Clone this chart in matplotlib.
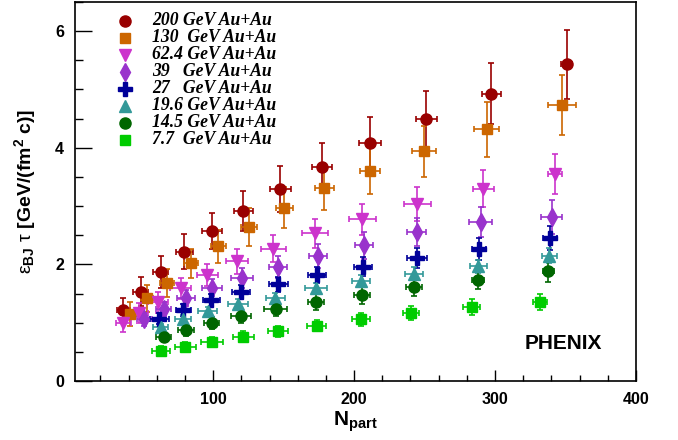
import matplotlib
matplotlib.use("Agg")
import matplotlib.pyplot as plt
from matplotlib.ticker import MultipleLocator

plt.rcParams["font.family"] = ["Liberation Sans", "DejaVu Sans"]
plt.rcParams["mathtext.fontset"] = "custom"
plt.rcParams["mathtext.rm"] = "Liberation Sans:bold"
plt.rcParams["mathtext.bf"] = "Liberation Sans:bold"
plt.rcParams["mathtext.it"] = "Liberation Sans:bold:italic"
plt.rcParams["mathtext.sf"] = "Liberation Sans"

# values
labels = ["200 GeV Au+Au", "130  GeV Au+Au", "62.4 GeV Au+Au", "39   GeV Au+Au",
          "27   GeV Au+Au", "19.6 GeV Au+Au", "14.5 GeV Au+Au", "7.7  GeV Au+Au"]

npart_200 = [36.4, 48.7, 62.9, 79.6, 99.1, 121.5, 147.7, 177.1, 211.3, 251.1, 297.2, 350.8]
e_200 = [1.22, 1.53, 1.87, 2.22, 2.57, 2.92, 3.29, 3.67, 4.09, 4.49, 4.93, 5.43]
err_200 = [0.20, 0.25, 0.27, 0.30, 0.31, 0.34, 0.39, 0.42, 0.44, 0.48, 0.53, 0.59]
xerr_200 = [4.7, 5.3, 5.3, 6.0, 6.9, 7.0, 7.6, 7.1, 7.6, 7.4, 6.7, 3.9]

npart_130 = [41.1, 53.0, 67.2, 84.3, 103.8, 125.5, 150.4, 178.9, 211.3, 249.6, 294.1, 347.7]
e_130 = [1.15, 1.42, 1.68, 2.02, 2.31, 2.64, 2.97, 3.31, 3.61, 3.94, 4.32, 4.73]
err_130 = [0.20, 0.23, 0.24, 0.25, 0.28, 0.32, 0.35, 0.37, 0.40, 0.44, 0.47, 0.51]
xerr_130 = [3.9, 4.5, 5.0, 5.0, 5.0, 5.6, 6.1, 6.5, 7.3, 8.2, 8.9, 10.0]

npart_62 = [36.4, 47.7, 61.2, 77.1, 96.0, 117.0, 142.8, 172.1, 205.9, 244.9, 291.7, 342.6]
e_62 = [1.00, 1.16, 1.35, 1.59, 1.82, 2.05, 2.27, 2.53, 2.77, 3.04, 3.30, 3.55]
err_62 = [0.16, 0.17, 0.18, 0.18, 0.19, 0.21, 0.23, 0.25, 0.27, 0.29, 0.32, 0.35]
xerr_62 = [5.0, 6.1, 7.1, 7.4, 7.6, 7.6, 8.9, 9.2, 9.7, 9.4, 7.3, 4.7]

npart_39 = [51.3, 64.8, 80.9, 99.5, 120.6, 146.3, 174.3, 206.9, 244.5, 289.9, 340.2]
e_39 = [1.06, 1.23, 1.42, 1.60, 1.77, 1.96, 2.14, 2.33, 2.55, 2.73, 2.81]
err_39 = [0.11, 0.12, 0.14, 0.15, 0.17, 0.19, 0.21, 0.23, 0.24, 0.26, 0.29]
xerr_39 = [5.0, 5.3, 6.3, 7.1, 7.7, 6.4, 6.5, 6.5, 6.7, 8.2, 7.4]

npart_27 = [61.9, 78.9, 98.6, 119.9, 146.3, 173.8, 206.4, 244.5, 288.9, 339.0]
e_27 = [1.07, 1.22, 1.39, 1.53, 1.66, 1.82, 1.96, 2.11, 2.26, 2.45]
err_27 = [0.09, 0.10, 0.11, 0.12, 0.13, 0.14, 0.16, 0.17, 0.19, 0.21]
xerr_27 = [6.5, 5.6, 6.1, 6.3, 6.5, 6.5, 6.3, 7.1, 5.0, 5.0]

npart_19 = [62.9, 78.5, 96.2, 117.7, 144.2, 173.0, 204.7, 242.6, 288.2, 338.5]
e_19 = [0.92, 1.06, 1.20, 1.32, 1.43, 1.59, 1.71, 1.84, 1.97, 2.15]
err_19 = [0.06, 0.07, 0.07, 0.08, 0.08, 0.09, 0.10, 0.11, 0.11, 0.13]
xerr_19 = [5.3, 5.9, 6.7, 7.1, 6.7, 7.7, 6.5, 6.5, 6.1, 5.3]

npart_14 = [64.8, 80.9, 99.1, 119.9, 144.5, 173.0, 205.7, 242.8, 287.7, 337.8]
e_14 = [0.76, 0.87, 1.00, 1.11, 1.24, 1.36, 1.47, 1.61, 1.74, 1.89]
err_14 = [0.07, 0.09, 0.10, 0.11, 0.13, 0.14, 0.15, 0.16, 0.17, 0.19]
xerr_14 = [5.0, 5.6, 5.4, 7.1, 8.2, 5.9, 5.7, 5.7, 4.4, 4.0]

npart_7 = [62.9, 80.1, 99.1, 121.5, 146.3, 173.5, 204.7, 240.4, 283.5, 331.9]
e_7 = [0.52, 0.59, 0.67, 0.76, 0.85, 0.95, 1.06, 1.16, 1.27, 1.36]
err_7 = [0.08, 0.08, 0.09, 0.09, 0.10, 0.10, 0.11, 0.12, 0.13, 0.14]
xerr_7 = [6.5, 7.4, 7.8, 7.4, 7.1, 6.9, 6.3, 5.9, 5.9, 4.7]

series = [
    (npart_200, e_200, xerr_200, err_200, "#990000", "o", 8),
    (npart_130, e_130, xerr_130, err_130, "#cc6600", "s", 7.5),
    (npart_62, e_62, xerr_62, err_62, "#cc33cc", "v", 9),
    (npart_39, e_39, xerr_39, err_39, "#9933cc", "d", 9),
    (npart_27, e_27, xerr_27, err_27, "#000099", "P", 10),
    (npart_19, e_19, xerr_19, err_19, "#339999", "^", 9),
    (npart_14, e_14, xerr_14, err_14, "#006600", "o", 8),
    (npart_7, e_7, xerr_7, err_7, "#00cc00", "s", 7.5),
]

fig = plt.figure(figsize=(6.78, 4.40), dpi=100)
ax = fig.add_axes([75 / 678, 1 - 381 / 440, 561 / 678, 379 / 440])

for x, y, xe, ye, col, mk, ms in series:
    ax.errorbar(x, y, xerr=xe, yerr=ye, fmt=mk, color=col, ms=ms,
                mec=col, elinewidth=1.2, capsize=2.2, capthick=1.2, zorder=3)

ax.set_xlim(2, 400)
ax.set_ylim(0, 6.5)
ax.xaxis.set_major_locator(MultipleLocator(100))
ax.xaxis.set_minor_locator(MultipleLocator(20))
ax.yaxis.set_major_locator(MultipleLocator(2))
ax.yaxis.set_minor_locator(MultipleLocator(0.5))
ax.tick_params(axis="both", which="both", direction="in", width=1.0,
               labelsize=11.5)
ax.tick_params(axis="y", which="major", length=12, pad=8)
ax.tick_params(axis="y", which="minor", length=6)
ax.tick_params(axis="x", which="major", length=8, pad=8)
ax.tick_params(axis="x", which="minor", length=4)
for lab in ax.get_xticklabels() + ax.get_yticklabels():
    lab.set_fontweight("bold")
for sp in ax.spines.values():
    sp.set_linewidth(1.2)

ax.set_xlabel(r"N$_{\mathrm{part}}$", fontsize=15, fontweight="bold", labelpad=2)
ax.set_ylabel(r"$\mathsf{\varepsilon}_{\mathrm{BJ}}\ \mathsf{\tau}$ [GeV/(fm$^{\mathrm{2}}$ c)]",
              fontsize=14, fontweight="bold", labelpad=12)

# legend drawn by hand, ROOT style
for i, (x, y, xe, ye, col, mk, ms) in enumerate(series):
    yy = (381 - (20.7 + 17.0 * i)) / 379
    ax.plot([0.0891], [yy], marker=mk, color=col, ms=ms, ls="none",
            transform=ax.transAxes, clip_on=False)
    ax.text(0.137, yy, labels[i], transform=ax.transAxes, va="center", ha="left",
            fontsize=12.7, family=["Liberation Serif", "DejaVu Serif"],
            fontweight="bold", fontstyle="italic")

ax.text(0.87, 0.098, "PHENIX", transform=ax.transAxes, ha="center", va="center",
        fontsize=15, fontweight="bold")

fig.savefig("out.png", dpi=100)
